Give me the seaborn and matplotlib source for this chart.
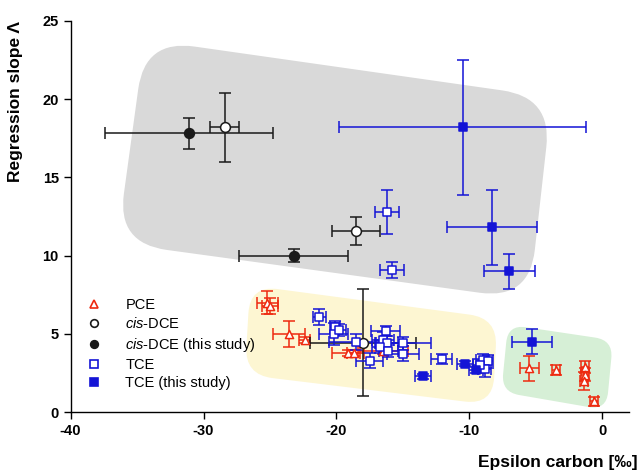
import numpy as np
import pandas as pd
import matplotlib
matplotlib.use('Agg')
import matplotlib.pyplot as plt
from matplotlib.path import Path
from matplotlib.patches import PathPatch
from matplotlib.lines import Line2D
import seaborn as sns

# values (epsilon carbon in permil, regression slope, +/- errors)
pce_eps = [-25.2, -25.0, -23.6, -22.4, -19.1, -18.7, -16.5, -5.5, -3.5, -1.3, -1.3, -1.4, -0.6]
pce_lam = [7.0, 6.8, 5.0, 4.6, 3.8, 3.8, 3.9, 2.8, 2.7, 2.9, 2.4, 2.0, 0.7]
pce_eps_err = [0.8, 0.6, 1.2, 0.4, 1.2, 0.5, 1.9, 0.7, 0.3, 0.3, 0.3, 0.3, 0.3]
pce_lam_err = [0.75, 0.5, 0.8, 0.2, 0.2, 0.2, 0.2, 0.8, 0.3, 0.4, 0.4, 0.6, 0.3]

dce_eps = [-28.4, -18.5, -18.0]
dce_lam = [18.2, 11.6, 4.45]
dce_eps_err = [1.1, 1.8, 4.0]
dce_lam_err = [2.2, 0.9, 3.4]

dce_new_eps = [-31.1, -23.2]
dce_new_lam = [17.8, 10.0]
dce_new_eps_err = [6.3, 4.1]
dce_new_lam_err = [1.0, 0.4]

tce_eps = [-16.2, -15.8, -21.3, -20.1, -20.2, -19.8, -18.5, -17.5, -16.3, -16.5,
           -16.2, -16.75, -16.1, -15.0, -15.0, -12.1, -9.0, -8.6, -8.85, -9.2]
tce_lam = [12.8, 9.1, 6.1, 5.45, 5.0, 5.25, 4.5, 3.3, 5.2, 4.6,
           4.4, 4.2, 3.9, 4.4, 3.75, 3.4, 3.35, 3.25, 2.75, 3.0]
tce_eps_err = [0.9, 0.9, 0.5, 0.4, 1.1, 0.5, 2.1, 1.0, 1.1, 0.8,
               0.8, 0.6, 0.7, 2.1, 1.2, 0.8, 0.5, 0.4, 0.5, 0.5]
tce_lam_err = [1.4, 0.5, 0.5, 0.4, 0.7, 0.4, 0.5, 0.5, 0.3, 0.5,
               0.5, 0.4, 0.4, 0.4, 0.5, 0.3, 0.4, 0.4, 0.5, 0.4]

tce_new_eps = [-10.5, -8.3, -7.0, -5.3, -13.5, -10.3, -9.5]
tce_new_lam = [18.2, 11.8, 9.0, 4.5, 2.3, 3.1, 2.7]
tce_new_eps_err = [9.3, 3.4, 1.9, 1.5, 0.6, 0.6, 0.5]
tce_new_lam_err = [4.3, 2.4, 1.1, 0.8, 0.15, 0.15, 0.2]

labels = ['PCE', '$\\it{cis}$-DCE', '$\\it{cis}$-DCE (this study)', 'TCE', 'TCE (this study)']

RED = '#ee2a10'
BLUE = '#1414d6'
BLACK = '#1a1a1a'

sns.set_style('ticks')
plt.rcParams['font.family'] = ['Liberation Sans', 'DejaVu Sans']
plt.rcParams['mathtext.fontset'] = 'custom'
plt.rcParams['mathtext.rm'] = 'Liberation Sans'
plt.rcParams['mathtext.it'] = 'Liberation Sans:italic'
plt.rcParams['axes.unicode_minus'] = False
plt.rcParams['text.color'] = 'black'
plt.rcParams['axes.labelcolor'] = 'black'

frames = []
for lab, e, l, ee, le in [
    (labels[0], pce_eps, pce_lam, pce_eps_err, pce_lam_err),
    (labels[1], dce_eps, dce_lam, dce_eps_err, dce_lam_err),
    (labels[2], dce_new_eps, dce_new_lam, dce_new_eps_err, dce_new_lam_err),
    (labels[3], tce_eps, tce_lam, tce_eps_err, tce_lam_err),
    (labels[4], tce_new_eps, tce_new_lam, tce_new_eps_err, tce_new_lam_err),
]:
    frames.append(pd.DataFrame({'eps': e, 'lam': l, 'eps_err': ee, 'lam_err': le, 'group': lab}))
df = pd.concat(frames, ignore_index=True)

# marker, edge colour, face colour, size
styles = {
    labels[0]: ('^', RED, 'white', 34),
    labels[1]: ('o', BLACK, 'white', 50),
    labels[2]: ('o', BLACK, BLACK, 50),
    labels[3]: ('s', BLUE, 'white', 34),
    labels[4]: ('s', BLUE, BLUE, 34),
}

fig = plt.figure(figsize=(6.37, 4.72), dpi=100)
ax = fig.add_axes([0.1108, 0.1265, 0.8766, 0.8296])
ax.set_xlim(-40, 2)
ax.set_ylim(0, 25)


def rounded_patch(ax, corners, radius_px, color):
    # corners in data units, corner radius in pixels
    p0 = ax.transData.transform((0, 0))
    sx = ax.transData.transform((1, 0))[0] - p0[0]
    sy = ax.transData.transform((0, 1))[1] - p0[1]
    pts = np.array(corners, float) * [sx, sy]
    verts, codes = [], []
    n = len(pts)
    for i in range(n):
        prev, cur, nxt = pts[i - 1], pts[i], pts[(i + 1) % n]
        a = cur + radius_px * (prev - cur) / np.linalg.norm(prev - cur)
        b = cur + radius_px * (nxt - cur) / np.linalg.norm(nxt - cur)
        verts += [a, cur, b]
        codes += [Path.LINETO if i else Path.MOVETO, Path.CURVE3, Path.CURVE3]
    verts.append(verts[0])
    codes.append(Path.CLOSEPOLY)
    verts = np.array(verts) / [sx, sy]
    ax.add_patch(PathPatch(Path(verts, codes), facecolor=color, edgecolor='none', zorder=0))


# shaded groupings
rounded_patch(ax, [(-34.4, 23.8), (-3.8, 20.1), (-5.5, 7.2), (-36.5, 10.8)], 50, '#d9d9d9')
rounded_patch(ax, [(-26.5, 8.1), (-7.9, 6.0), (-8.25, 0.47), (-26.9, 2.4)], 28, '#fdf6d2')
rounded_patch(ax, [(-7.1, 5.6), (0.8, 4.6), (0.3, 0.14), (-7.6, 1.3)], 18, '#d6efd6')

for lab, sub in df.groupby('group', sort=False):
    marker, ec, fc, size = styles[lab]
    ax.errorbar(sub['eps'], sub['lam'], xerr=sub['eps_err'], yerr=sub['lam_err'],
                fmt='none', ecolor=ec, elinewidth=1.1, capsize=4.5, capthick=1.1, zorder=2)
    sns.scatterplot(data=sub, x='eps', y='lam', marker=marker, s=size, color=fc,
                    edgecolor=ec, linewidth=1.1, zorder=3, ax=ax, legend=False)

handles = []
for lab in labels:
    marker, ec, fc, size = styles[lab]
    handles.append(Line2D([], [], ls='none', marker=marker, markersize=5.5,
                          markerfacecolor=fc, markeredgecolor=ec, markeredgewidth=1.2))
ax.legend(handles, labels, loc='upper left', bbox_to_anchor=(0.008, 0.318), frameon=False,
          fontsize=10.5, handlelength=1.2, handletextpad=1.55, labelspacing=0.3, borderaxespad=0.3)

ax.set_xticks([-40, -30, -20, -10, 0])
ax.set_yticks([0, 5, 10, 15, 20, 25])
ax.tick_params(axis='both', direction='out', length=5, width=1, colors='black', labelsize=10.5)
for t in ax.get_xticklabels() + ax.get_yticklabels():
    t.set_fontweight('bold')
for side in ['left', 'bottom']:
    ax.spines[side].set_color('black')
    ax.spines[side].set_linewidth(1)
sns.despine(ax=ax)

ax.set_xlabel('Epsilon carbon [‰]', fontsize=12.5, fontweight='bold', ha='right', color='black')
ax.xaxis.set_label_coords(1.015, -0.11)
ax.set_ylabel('Regression slope Λ', fontsize=12.5, fontweight='bold', ha='right', color='black')
ax.yaxis.set_label_coords(-0.085, 1.0)

fig.savefig('out.png', dpi=100)
